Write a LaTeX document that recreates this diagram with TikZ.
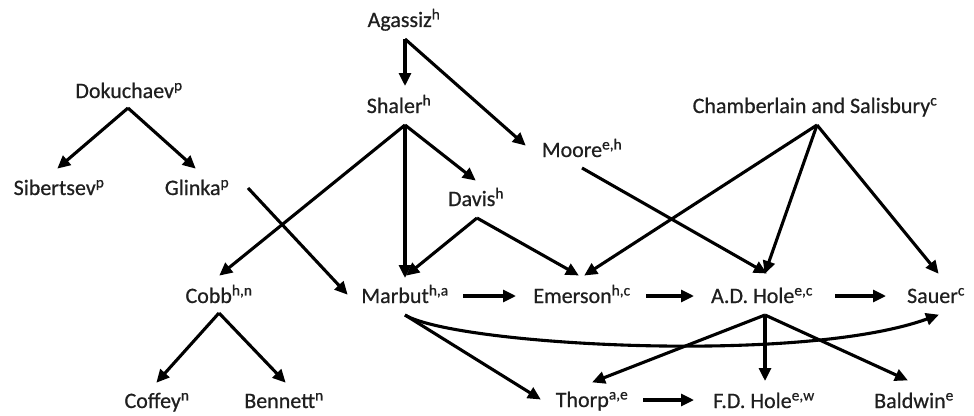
\documentclass[tikz,border=0pt]{standalone}
\usepackage{fontspec}
\setmainfont{Carlito}[FakeBold=0.6]
\newfontfamily\namefont{Carlito}[FakeBold=0.6]
\usetikzlibrary{calc,arrows.meta}
\newcommand{\sups}[1]{\textsuperscript{#1}}
\begin{document}
\begin{tikzpicture}[x=1pt,y=-1pt,
  person/.style={anchor=base,inner sep=0pt,font=\namefont\fontsize{22}{26}\selectfont,text=black!88},
  arr/.style={line width=3.1pt,-{Triangle[length=13pt,width=12pt]},shorten >=-1pt}]
\useasboundingbox (0,0) rectangle (974,415);

% people
\node[person] (aga) at (404,27)  {Agassiz\sups{h}};
\node[person] (sha) at (399,113) {Shaler\sups{h}};
\node[person] (dok) at (129,98)  {Dokuchaev\sups{p}};
\node[person] (sib) at (59,195)  {Sibertsev\sups{p}};
\node[person] (gli) at (197,195) {Glinka\sups{p}};
\node[person] (moo) at (582,157) {Moore\sups{e,h}};
\node[person] (dav) at (476,206) {Davis\sups{h}};
\node[person] (cha) at (815,113) {Chamberlain and Salisbury\sups{c}};
\node[person] (cob) at (219,303) {Cobb\sups{h,n}};
\node[person] (mar) at (405,303) {Marbut\sups{h,a}};
\node[person] (eme) at (582,303) {Emerson\sups{h,c}};
\node[person] (adh) at (762,303) {A.D. Hole\sups{e,c}};
\node[person] (sau) at (936,303) {Sauer\sups{c}};
\node[person] (cof) at (157,408) {Coffey\sups{n}};
\node[person] (ben) at (284,408) {Bennett\sups{n}};
\node[person] (tho) at (592,407) {Thorp\sups{a,e}};
\node[person] (fdh) at (764,408) {F.D. Hole\sups{e,w}};
\node[person] (bal) at (914,408) {Baldwin\sups{e}};

% lineage arrows
\draw[arr] ($(aga.base)+(1,12)$) -- ($(sha.base)+(6,-28)$);
\draw[arr] ($(aga.base)+(1,12)$) -- ($(moo.base)+(-57,-12)$);
\draw[arr] ($(sha.base)+(6,12)$) -- ($(cob.base)+(1,-28)$);
\draw[arr] ($(sha.base)+(6,12)$) -- ($(mar.base)+(0,-26)$);
\draw[arr] ($(sha.base)+(6,12)$) -- ($(dav.base)+(-1,-26)$);
\draw[arr] ($(dok.base)+(-1,10)$) -- ($(sib.base)+(-1,-27)$);
\draw[arr] ($(dok.base)+(-1,10)$) -- ($(gli.base)+(-2,-27)$);
\draw[arr] ($(gli.base)+(51,-7)$) -- ($(mar.base)+(-58,-9)$);
\draw[arr] ($(dav.base)+(1,12)$) -- ($(mar.base)+(2,-28)$);
\draw[arr] ($(dav.base)+(1,12)$) -- ($(eme.base)+(-4,-28)$);
\draw[arr] ($(moo.base)+(0,11)$) -- ($(adh.base)+(4,-30)$);
\draw[arr] ($(cha.base)+(2,12)$) -- ($(eme.base)+(3,-28)$);
\draw[arr] ($(cha.base)+(2,12)$) -- ($(adh.base)+(3,-30)$);
\draw[arr] ($(cha.base)+(2,12)$) -- ($(sau.base)+(2,-30)$);
\draw[arr] ($(mar.base)+(58,-7)$) -- ($(eme.base)+(-67,-7)$);
\draw[arr] ($(eme.base)+(64,-7)$) -- ($(adh.base)+(-69,-7)$);
\draw[arr] ($(adh.base)+(73,-7)$) -- ($(sau.base)+(-51,-7)$);
\draw[arr] ($(cob.base)+(0,10)$) -- ($(cof.base)+(0,-26)$);
\draw[arr] ($(cob.base)+(0,10)$) -- ($(ben.base)+(1,-26)$);
\draw[arr] ($(mar.base)+(0,12)$) -- ($(tho.base)+(-52,-8)$);
\draw[arr] ($(mar.base)+(0,12)$) .. controls (455,345) and (800,365) .. ($(sau.base)+(2,12)$);
\draw[arr] ($(adh.base)+(3,12)$) -- ($(tho.base)+(1,-25)$);
\draw[arr] ($(adh.base)+(3,12)$) -- ($(fdh.base)+(1,-28)$);
\draw[arr] ($(adh.base)+(3,12)$) -- ($(bal.base)+(-7,-28)$);
\draw[arr] ($(tho.base)+(51,-7)$) -- ($(fdh.base)+(-71,-8)$);
\end{tikzpicture}
\end{document}
